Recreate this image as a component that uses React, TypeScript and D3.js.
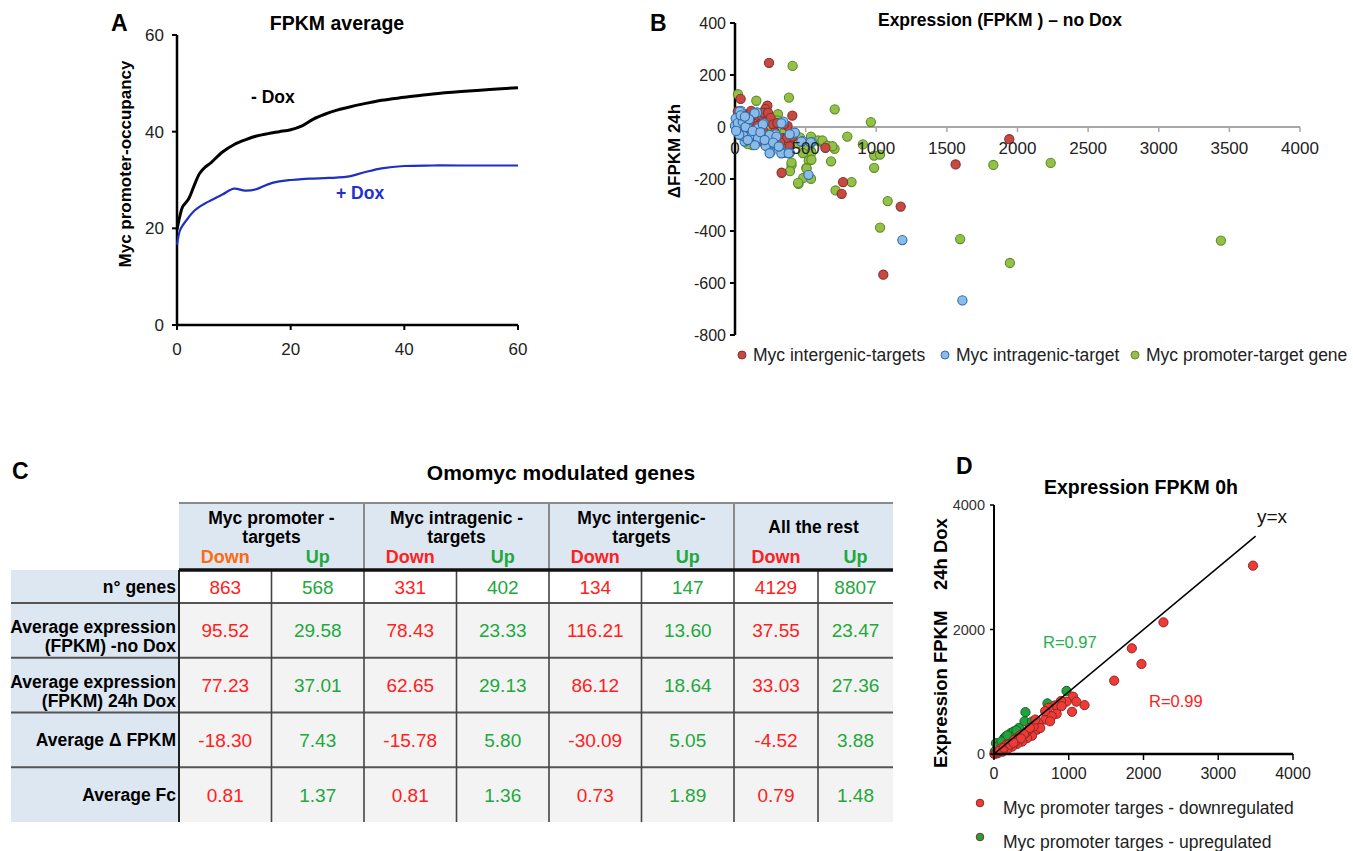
import React from 'react';
import * as d3 from 'd3';

const FONT = '"Liberation Sans", Arial, Helvetica, sans-serif';

// ---------- Panel A: FPKM average ----------
const timeA = [0, 0.5, 1, 2, 3, 4, 5, 6, 8, 10, 12, 14, 16, 18, 20, 22, 24, 26, 28, 30, 33, 36, 40, 45, 50, 55, 60];
const minusDox = [19.7, 22.5, 24.5, 26, 28.8, 31.4, 32.7, 33.6, 35.8, 37.3, 38.3, 39.1, 39.6, 40, 40.4, 41.2, 42.6, 43.6, 44.4, 45, 45.8, 46.5, 47.1, 47.8, 48.3, 48.7, 49.1];
const plusDox = [16.6, 19.5, 20.6, 22.2, 23.6, 24.5, 25.2, 25.8, 27, 28.2, 27.8, 28.1, 29.1, 29.7, 30, 30.2, 30.3, 30.4, 30.5, 30.7, 31.6, 32.4, 32.9, 33, 33, 33, 33];
const ticksA = [0, 20, 40, 60];

// ---------- Panel B: Expression (FPKM) - no Dox ----------
const intergenicB = [
  [241, 247], [40, 108], [229, 82], [215, 69], [406, 44], [372, 4], [640, -80], [330, -176], [765, -212], [755, -257],
  [1173, -306], [1050, -568], [1562, -144], [1942, -47], [390, -48],
  [20, 60], [35, 40], [60, 35], [85, 48], [115, 62], [130, 45], [170, 40], [187, 44], [200, 55], [234, 54],
  [215, 20], [252, 35], [270, 10], [300, 15], [345, 10], [92, -21], [120, -10], [150, -30], [198, -14], [220, -40],
  [250, -55], [281, -21], [300, -45], [340, -43], [368, -43], [387, -75], [408, -37], [320, -60], [180, -55], [140, -45],
  [60, -10], [40, -20], [25, 10], [110, 20], [160, 5],
];
const intragenicB = [
  [10, 4], [42, 62], [155, 56], [204, 14], [343, 21], [424, -22], [288, -28], [252, -97], [350, -99], [388, -99],
  [520, -184], [1185, -435], [1610, -667], [479, -54], [544, -58],
  [33, 59], [45, 27], [0, 5], [5, 33], [15, -10], [20, 15], [139, 53], [92, -5], [163, -5], [198, 10],
  [116, -31], [68, -56], [163, -44], [245, -31], [293, -37], [328, 14], [217, -73], [245, -101], [328, -101], [380, -101],
  [387, -28], [470, -56], [536, -59], [55, 20], [75, 0], [100, 30], [125, -15], [60, -35], [30, -30], [180, -20],
  [210, -50], [270, -60], [310, -75], [140, -70], [90, -50], [40, 45], [70, 40], [8, -15],
];
const promoterB = [
  [21, 126], [151, 101], [408, 235], [382, 113], [304, 49], [706, 68], [962, 19], [795, -37], [905, -67], [705, -84],
  [618, -58], [538, -37], [680, -132], [522, -128], [538, -93], [400, -147], [505, -157], [450, -219], [483, -196], [538, -199],
  [712, -244], [825, -212], [985, -110], [1027, -106], [985, -157], [1081, -285], [1027, -387], [1594, -431], [1946, -523], [1829, -146],
  [2235, -138], [3440, -437], [123, -70],
  [252, 27], [304, -5], [234, -43], [281, -62], [423, -31], [447, -62], [517, -88], [541, -98], [588, -52], [619, -52],
  [654, -72], [690, -74], [400, -137], [389, -170], [507, -160], [541, -126], [447, -215], [137, -62], [92, -66],
  [200, 30], [350, -20], [260, -10], [180, -30], [330, -50], [480, -100], [460, -40], [380, -80], [220, 5], [300, 25],
];
const xTicksB = [0, 500, 1000, 1500, 2000, 2500, 3000, 3500, 4000];
const yTicksB = [-800, -600, -400, -200, 0, 200, 400];
const legendB = ['Myc intergenic-targets', 'Myc intragenic-target', 'Myc promoter-target gene'];

// ---------- Panel C: Omomyc modulated genes ----------
const groupsC = [['Myc promoter -', 'targets'], ['Myc intragenic -', 'targets'], ['Myc intergenic-', 'targets'], ['All the rest']];
const subHeadC = ['Down', 'Up', 'Down', 'Up', 'Down', 'Up', 'Down', 'Up'];
const rowLabelsC = [['n° genes'], ['Average expression', '(FPKM) -no Dox'], ['Average expression', '(FPKM) 24h Dox'], ['Average Δ FPKM'], ['Average Fc']];
const rowValuesC = [
  ['863', '568', '331', '402', '134', '147', '4129', '8807'],
  ['95.52', '29.58', '78.43', '23.33', '116.21', '13.60', '37.55', '23.47'],
  ['77.23', '37.01', '62.65', '29.13', '86.12', '18.64', '33.03', '27.36'],
  ['-18.30', '7.43', '-15.78', '5.80', '-30.09', '5.05', '-4.52', '3.88'],
  ['0.81', '1.37', '0.81', '1.36', '0.73', '1.89', '0.79', '1.48'],
];

// ---------- Panel D: Expression FPKM 0h ----------
const downD = [
  [3465, 3026], [2267, 2115], [1844, 1698], [1973, 1446], [1608, 1178],
  [1057, 922], [970, 841], [1101, 841], [1211, 785], [895, 851], [816, 780], [1044, 678], [838, 645], [715, 650], [728, 743],
  [684, 553], [596, 488], [575, 390], [509, 293], [443, 255], [378, 200], [312, 163], [246, 119], [180, 76], [114, 37],
  [49, 11], [15, 5], [619, 418], [530, 444], [465, 390], [421, 336], [333, 282], [290, 200], [158, 146], [92, 92],
  [772, 607], [684, 688], [750, 525], [904, 769], [553, 553],
  [5, 2], [25, 15], [35, 25], [60, 40], [75, 55], [130, 100], [200, 160], [220, 150], [270, 230], [350, 300],
  [400, 320], [480, 420], [360, 250], [260, 180],
];
const upD = [
  [970, 1013], [715, 813], [421, 672], [408, 525], [333, 418], [224, 336], [136, 255], [26, 174], [263, 363], [509, 520],
  [158, 282], [10, 40], [50, 120], [100, 200], [300, 380], [180, 300],
];
const xTicksD = [0, 1000, 2000, 3000, 4000];
const yTicksD = [0, 2000, 4000];
const legendD = ['Myc promoter targes - downregulated', 'Myc promoter targes - upregulated'];

export default function App() {
  // scales
  const xA = d3.scaleLinear().domain([0, 60]).range([177, 518]);
  const yA = d3.scaleLinear().domain([0, 60]).range([325, 35]);
  const lineA = d3.line<number>().x((_, i) => xA(timeA[i])).curve(d3.curveCatmullRom);

  const xB = d3.scaleLinear().domain([0, 4000]).range([735, 1300]);
  const yB = d3.scaleLinear().domain([-800, 400]).range([335, 23]);

  const colX = d3.scaleLinear().domain([0, 6, 7, 8]).range([179, 734, 818, 893]);
  const rowY = d3.scaleLinear().domain([0, 1, 5]).range([570, 603, 822]);

  const xD = d3.scaleLinear().domain([0, 4000]).range([994, 1293]);
  const yD = d3.scaleLinear().domain([0, 4000]).range([754, 505]);

  const red = '#ff2020';
  const green = '#22a83c';

  const seriesB = [
    { data: promoterB, fill: '#93c147', stroke: '#5e8a2a' },
    { data: intergenicB, fill: '#c64a42', stroke: '#8a2f2a' },
    { data: intragenicB, fill: '#8dbbe8', stroke: '#2f6cab' },
  ];
  const legendColorsB = [seriesB[1], seriesB[2], seriesB[0]];
  const legendXB = [742, 945, 1135];

  return (
    <svg width={1353} height={851} style={{ position: 'absolute', left: 0, top: 0, background: '#fff' }} fontFamily={FONT}>
      {/* ===== Panel A ===== */}
      <text x={111} y={31} fontSize={23} fontWeight="bold">A</text>
      <text x={337} y={30} fontSize={19.5} fontWeight="bold" textAnchor="middle">FPKM average</text>
      <text transform="translate(131,164) rotate(-90)" fontSize={17} fontWeight="bold" textAnchor="middle">Myc promoter-occupancy</text>
      <line x1={xA(0)} x2={xA(0)} y1={yA(60)} y2={yA(0)} stroke="#000" strokeWidth={2.5} />
      <line x1={xA(0)} x2={xA(60)} y1={yA(0)} y2={yA(0)} stroke="#000" strokeWidth={2.5} />
      {ticksA.map(t => (
        <g key={'ya' + t}>
          <line x1={xA(0) - 5} x2={xA(0)} y1={yA(t)} y2={yA(t)} stroke="#000" strokeWidth={2} />
          <text x={164} y={yA(t) + 6} fontSize={17} fill="#222" textAnchor="end">{t}</text>
        </g>
      ))}
      {ticksA.map(t => (
        <g key={'xa' + t}>
          <line x1={xA(t)} x2={xA(t)} y1={yA(0)} y2={yA(0) + 5} stroke="#000" strokeWidth={2} />
          <text x={xA(t)} y={355} fontSize={17} fill="#222" textAnchor="middle">{t}</text>
        </g>
      ))}
      <path d={lineA.y(d => yA(d))(minusDox) || ''} fill="none" stroke="#000" strokeWidth={3} />
      <path d={lineA.y(d => yA(d))(plusDox) || ''} fill="none" stroke="#1f2fc4" strokeWidth={2.2} />
      <text x={251} y={103} fontSize={17.5} fontWeight="bold">- Dox</text>
      <text x={336} y={199} fontSize={17.5} fontWeight="bold" fill="#1f2fd0">+ Dox</text>

      {/* ===== Panel B ===== */}
      <text x={650} y={31} fontSize={23} fontWeight="bold">B</text>
      <text x={1000} y={26} fontSize={17.5} fontWeight="bold" textAnchor="middle">Expression (FPKM ) – no Dox</text>
      <text transform="translate(680,151) rotate(-90)" fontSize={17} fontWeight="bold" textAnchor="middle">ΔFPKM 24h</text>
      <line x1={xB(0)} x2={xB(4000)} y1={yB(0)} y2={yB(0)} stroke="#a6a6a6" strokeWidth={2} />
      {xTicksB.map(t => (
        <g key={'xb' + t}>
          <line x1={xB(t)} x2={xB(t)} y1={yB(0)} y2={yB(0) + 5} stroke="#a6a6a6" strokeWidth={1.5} />
        </g>
      ))}
      <line x1={xB(0)} x2={xB(0)} y1={yB(400)} y2={yB(-800)} stroke="#000" strokeWidth={2.5} />
      {yTicksB.map(t => (
        <g key={'yb' + t}>
          <line x1={xB(0) - 5} x2={xB(0)} y1={yB(t)} y2={yB(t)} stroke="#000" strokeWidth={2} />
          <text x={726} y={yB(t) + 5.5} fontSize={16} fill="#222" textAnchor="end">{t}</text>
        </g>
      ))}
      {seriesB.map((s, si) => (
        <g key={'sb' + si}>
          {s.data.map((d, i) => (
            <circle key={i} cx={xB(d[0])} cy={yB(d[1])} r={4.6} fill={s.fill} stroke={s.stroke} strokeWidth={1.1} />
          ))}
        </g>
      ))}
      {xTicksB.map(t => (
        <text key={'xbl' + t} x={xB(t)} y={154} fontSize={17} fill="#222" textAnchor="middle">{t}</text>
      ))}
      {legendB.map((name, i) => (
        <g key={'lb' + i}>
          <circle cx={legendXB[i]} cy={355} r={4} fill={legendColorsB[i].fill} stroke={legendColorsB[i].stroke} strokeWidth={1} />
          <text x={legendXB[i] + 11} y={361} fontSize={17.5} fill="#222">{name}</text>
        </g>
      ))}

      {/* ===== Panel C ===== */}
      <text x={12} y={479} fontSize={23} fontWeight="bold">C</text>
      <text x={561} y={480} fontSize={21} fontWeight="bold" textAnchor="middle">Omomyc modulated genes</text>
      <rect x={colX(0)} y={503} width={colX(8) - colX(0)} height={rowY(0) - 503} fill="#dde7f2" />
      <rect x={11} y={rowY(0)} width={colX(0) - 11} height={rowY(5) - rowY(0)} fill="#dde7f2" />
      {rowValuesC.map((_, r) => (
        <rect key={'rb' + r} x={colX(0)} y={rowY(r)} width={colX(8) - colX(0)} height={rowY(r + 1) - rowY(r)} fill={r === 0 ? '#ffffff' : '#f3f3f3'} />
      ))}
      <line x1={colX(0)} x2={colX(8)} y1={503} y2={503} stroke="#8a8a8a" strokeWidth={2} />
      {[2, 4, 6].map(c => (
        <line key={'hv' + c} x1={colX(c)} x2={colX(c)} y1={503} y2={rowY(0)} stroke="#8a8a8a" strokeWidth={2} />
      ))}
      {[1, 2, 3, 4].map(r => (
        <line key={'hl' + r} x1={11} x2={colX(8)} y1={rowY(r)} y2={rowY(r)} stroke="#555" strokeWidth={2} />
      ))}
      {[0, 1, 2, 3, 4, 5, 6, 7].map(c => (
        <line key={'bv' + c} x1={colX(c)} x2={colX(c)} y1={rowY(0)} y2={rowY(5)} stroke={c === 0 ? '#222' : '#444'} strokeWidth={c === 0 ? 2 : 1.6} />
      ))}
      <line x1={colX(0)} x2={colX(8)} y1={rowY(0)} y2={rowY(0)} stroke="#111" strokeWidth={3.5} />
      {groupsC.map((g, gi) => {
        const cx = (colX(gi * 2) + colX(gi * 2 + 2)) / 2;
        return (
          <g key={'gc' + gi}>
            {g.length === 2 ? (
              <>
                <text x={cx} y={524} fontSize={17.5} fontWeight="bold" textAnchor="middle">{g[0]}</text>
                <text x={cx} y={543} fontSize={17.5} fontWeight="bold" textAnchor="middle">{g[1]}</text>
              </>
            ) : (
              <text x={cx} y={533} fontSize={17.5} fontWeight="bold" textAnchor="middle">{g[0]}</text>
            )}
          </g>
        );
      })}
      {subHeadC.map((s, c) => (
        <text key={'sh' + c} x={(colX(c) + colX(c + 1)) / 2} y={563} fontSize={18} fontWeight="bold" textAnchor="middle"
          fill={s === 'Up' ? green : c === 0 ? '#ff6a10' : red}>{s}</text>
      ))}
      {rowLabelsC.map((lab, r) => (
        <g key={'rl' + r}>
          {lab.length === 2 ? (
            <>
              <text x={176} y={rowY(r) + 30} fontSize={17.5} fontWeight="bold" textAnchor="end">{lab[0]}</text>
              <text x={176} y={rowY(r) + 49} fontSize={17.5} fontWeight="bold" textAnchor="end">{lab[1]}</text>
            </>
          ) : (
            <text x={176} y={(rowY(r) + rowY(r + 1)) / 2 + 6} fontSize={17.5} fontWeight="bold" textAnchor="end">{lab[0]}</text>
          )}
        </g>
      ))}
      {rowValuesC.map((row, r) => row.map((v, c) => (
        <text key={'v' + r + '-' + c} x={(colX(c) + colX(c + 1)) / 2} y={(rowY(r) + rowY(r + 1)) / 2 + 7} fontSize={19}
          textAnchor="middle" fill={c % 2 === 0 ? red : green}>{v}</text>
      )))}

      {/* ===== Panel D ===== */}
      <text x={956} y={474} fontSize={23} fontWeight="bold">D</text>
      <text x={1141} y={494} fontSize={19.5} fontWeight="bold" textAnchor="middle">Expression FPKM 0h</text>
      <text transform="translate(947,643) rotate(-90)" fontSize={18.5} fontWeight="bold" textAnchor="middle" xmlSpace="preserve">Expression FPKM    24h Dox</text>
      {upD.map((d, i) => (
        <circle key={'u' + i} cx={xD(d[0])} cy={yD(d[1])} r={4.6} fill="#1fa33a" stroke="#17602a" strokeWidth={1} />
      ))}
      {downD.map((d, i) => (
        <circle key={'dn' + i} cx={xD(d[0])} cy={yD(d[1])} r={4.6} fill="#f03a35" stroke="#8a2a27" strokeWidth={1} />
      ))}
      <line x1={xD(0)} x2={xD(0)} y1={yD(4000)} y2={yD(0)} stroke="#000" strokeWidth={2} />
      <line x1={xD(0)} x2={xD(4000)} y1={yD(0)} y2={yD(0)} stroke="#000" strokeWidth={2.5} />
      {yTicksD.map(t => (
        <g key={'yd' + t}>
          <line x1={xD(0) - 4} x2={xD(0)} y1={yD(t)} y2={yD(t)} stroke="#000" strokeWidth={1.5} />
          <text x={985} y={yD(t) + 5} fontSize={14.5} fill="#333" textAnchor="end">{t}</text>
        </g>
      ))}
      {xTicksD.map(t => (
        <g key={'xd' + t}>
          <line x1={xD(t)} x2={xD(t)} y1={yD(0)} y2={yD(0) + 6} stroke="#000" strokeWidth={1.5} />
          <text x={xD(t)} y={779} fontSize={16} fill="#222" textAnchor="middle">{t}</text>
        </g>
      ))}
      <line x1={xD(0)} y1={yD(0)} x2={xD(3500)} y2={yD(3500)} stroke="#000" strokeWidth={1.5} />
      <text x={1257} y={523} fontSize={19} fill="#111">y=x</text>
      <text x={1043} y={648} fontSize={16.5} fill="#22b04a">R=0.97</text>
      <text x={1149} y={707} fontSize={16.5} fill={red}>R=0.99</text>
      {legendD.map((name, i) => (
        <g key={'ld' + i}>
          <circle cx={980} cy={803 + i * 34} r={3.8} fill={i === 0 ? '#f03a35' : '#1fa33a'} stroke="#8a2a27" strokeWidth={1} />
          <text x={1003} y={814 + i * 34} fontSize={17.5} fill="#222">{name}</text>
        </g>
      ))}
    </svg>
  );
}
